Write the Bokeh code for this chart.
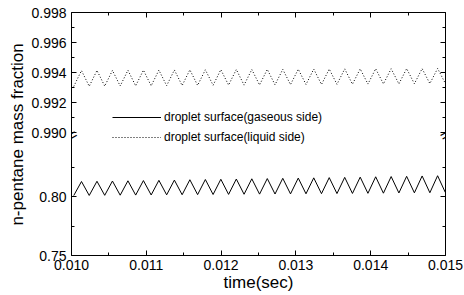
import numpy as np
from bokeh.plotting import figure
from bokeh.layouts import row
from bokeh.models import (Range1d, LinearAxis, FixedTicker, PrintfTickFormatter,
                          CustomJSTickFormatter, Label, Legend, LegendItem)
from bokeh.embed import file_html
from bokeh.resources import INLINE

# ---- data ----
t_start = 0.01003          # time of the first sample (s)
t_half = 0.0001035         # time between successive extrema (s)

solid_troughs = [0.8008, 0.8009, 0.8010, 0.8011, 0.8012, 0.8013, 0.8014, 0.8015,
                 0.8016, 0.8017, 0.8018, 0.8019, 0.8020, 0.8021, 0.8022, 0.8023,
                 0.8024, 0.8025, 0.8026, 0.8027, 0.8028, 0.8030, 0.8031, 0.8032, 0.8034]
solid_peaks = [0.8127, 0.8129, 0.8131, 0.8133, 0.8135, 0.8137, 0.8139, 0.8142,
               0.8144, 0.8146, 0.8148, 0.8150, 0.8152, 0.8154, 0.8156, 0.8158,
               0.8160, 0.8162, 0.8164, 0.8167, 0.8169, 0.8171, 0.8174, 0.8176]

dotted_troughs = [0.99307, 0.99308, 0.99309, 0.99310, 0.99311, 0.99311, 0.99312, 0.99313,
                  0.99314, 0.99315, 0.99316, 0.99316, 0.99317, 0.99318, 0.99319, 0.99320,
                  0.99320, 0.99321, 0.99322, 0.99323, 0.99324, 0.99324, 0.99325, 0.99326, 0.99327]
dotted_peaks = [0.99413, 0.99414, 0.99414, 0.99415, 0.99416, 0.99416, 0.99417, 0.99418,
                0.99418, 0.99419, 0.99420, 0.99420, 0.99421, 0.99421, 0.99422, 0.99423,
                0.99423, 0.99424, 0.99424, 0.99425, 0.99425, 0.99426, 0.99426, 0.99427]

series_labels = ["droplet surface(gaseous side)", "droplet surface(liquid side)"]

x_ticks = [0.010, 0.011, 0.012, 0.013, 0.014, 0.015]
x_minor = [0.0105, 0.0115, 0.0125, 0.0135, 0.0145]
y_low_ticks = [0.75, 0.80]
y_low_minor = [0.775, 0.825]
y_high_ticks = [0.990, 0.992, 0.994, 0.996, 0.998]
y_high_minor = [0.991, 0.993, 0.995, 0.997]

x_title = "time(sec)"
y_title = "n-pentane mass fraction"


def interleave(troughs, peaks):
    out = []
    for i, v in enumerate(troughs):
        out.append(v)
        if i < len(peaks):
            out.append(peaks[i])
    return out


solid_y = interleave(solid_troughs, solid_peaks)
dotted_y = interleave(dotted_troughs, dotted_peaks)
t_solid = t_start + t_half * np.arange(len(solid_y))
t_dotted = t_start + t_half * np.arange(len(dotted_y))

# ---- broken y axis: lower segment on the main range, upper on "top" ----
FONT = "Liberation Sans"
LO, HI = 0.75, 0.75 + 243 / 1180.0        # main (lower-segment) range
TLO, THI = 0.998 - 243 / 15000.0, 0.998   # upper-segment range
BREAK_TOP = 0.98983                        # upper-segment value at the break


def to_main(v):
    return LO + (v - TLO) * (HI - LO) / (THI - TLO)


BREAK_Y = to_main(BREAK_TOP)
left_ticks = y_low_ticks + [to_main(v) for v in y_high_ticks]
left_minor = y_low_minor + [to_main(v) for v in y_high_minor]

p = figure(width=436, height=295, output_backend="svg", toolbar_location=None,
           x_range=Range1d(0.010, 0.015), y_range=Range1d(LO, HI),
           x_axis_type=None, y_axis_type=None,
           min_border_left=42, min_border_right=19, min_border_top=12, min_border_bottom=40)
p.extra_y_ranges = {"top": Range1d(TLO, THI)}
p.outline_line_color = None
p.background_fill_color = "white"
p.border_fill_color = "white"


def style(ax, labels=True):
    ax.axis_line_color = "black"
    ax.axis_line_width = 1
    ax.major_tick_in = 5
    ax.major_tick_out = 0
    ax.minor_tick_in = 3
    ax.minor_tick_out = 0
    ax.major_tick_line_color = "black"
    ax.minor_tick_line_color = "black"
    ax.major_label_text_font = FONT
    if labels:
        ax.major_label_text_color = "black"
        ax.major_label_text_font_size = "14px"
        ax.major_label_standoff = 5
    else:
        ax.major_label_text_color = None
        ax.major_label_text_alpha = 0
        ax.major_label_text_font_size = "1px"
        ax.major_label_standoff = 0


left_formatter = CustomJSTickFormatter(
    args=dict(lo=LO, hi=HI, tlo=TLO, thi=THI, split=BREAK_Y),
    code="""
        if (tick > split) {
            const v = tlo + (tick - lo) * (thi - tlo) / (hi - lo);
            return v.toFixed(3);
        }
        return tick.toFixed(2);
    """)

xb = LinearAxis(ticker=FixedTicker(ticks=x_ticks, minor_ticks=x_minor),
                formatter=PrintfTickFormatter(format="%.3f"))
style(xb)
xb.major_label_standoff = 4
xb.axis_label = x_title
xb.axis_label_standoff = 0
xb.axis_label_text_font = FONT
xb.axis_label_text_font_size = "17px"
xb.axis_label_text_font_style = "normal"
xb.axis_label_text_color = "black"
p.add_layout(xb, "below")

xt = LinearAxis(ticker=FixedTicker(ticks=x_ticks, minor_ticks=x_minor))
style(xt, labels=False)
p.add_layout(xt, "above")

yl = LinearAxis(ticker=FixedTicker(ticks=left_ticks, minor_ticks=left_minor),
                formatter=left_formatter)
style(yl)
p.add_layout(yl, "left")

yr = LinearAxis(ticker=FixedTicker(ticks=left_ticks, minor_ticks=left_minor))
style(yr, labels=False)
p.add_layout(yr, "right")

# ---- series ----
r_solid = p.line(t_solid, solid_y, line_color="black", line_width=1)
r_dotted = p.line(t_dotted, dotted_y, line_color="black", line_width=1,
                  line_dash="1 2", y_range_name="top")

legend = Legend(items=[LegendItem(label=series_labels[0], renderers=[r_solid]),
                       LegendItem(label=series_labels[1], renderers=[r_dotted])],
                location=(41, 108), border_line_color=None, background_fill_alpha=0,
                glyph_width=49, glyph_height=20, label_height=20, spacing=0,
                padding=0, margin=0, label_standoff=3,
                label_text_font=FONT, label_text_font_size="12px",
                label_text_color="black")
p.add_layout(legend)

# ---- axis break marks (slightly inside the frame edges) ----
for bx in (0.01001, 0.01499):
    p.add_layout(Label(x=bx, y=BREAK_TOP, y_range_name="top", text="=",
                       angle=30, angle_units="deg",
                       text_font=FONT, text_font_size="16px", text_color="black",
                       text_align="center", text_baseline="middle"))

# ---- y-axis title in a narrow strip on the left ----
t = figure(width=28, height=295, output_backend="svg", toolbar_location=None,
           x_range=Range1d(0, 28), y_range=Range1d(295, 0),
           x_axis_type=None, y_axis_type=None, min_border=0)
t.outline_line_color = None
t.background_fill_color = "white"
t.border_fill_color = "white"
t.add_layout(Label(x=17, y=148, text=y_title, angle=90, angle_units="deg",
                   text_font=FONT, text_font_size="17px", text_color="black",
                   text_align="center", text_baseline="middle"))

layout = row(t, p, spacing=0)
open("out.html", "w").write(file_html(layout, INLINE))
